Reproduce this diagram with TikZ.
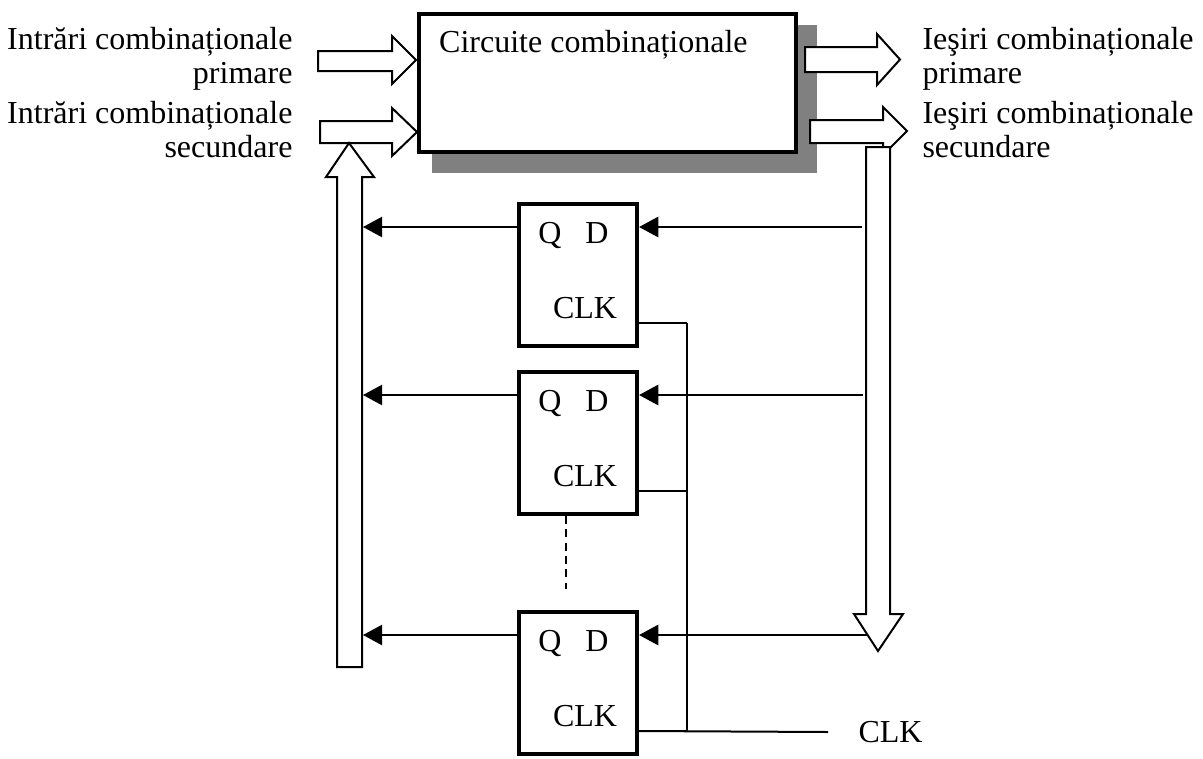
\documentclass[tikz,border=0pt]{standalone}
\usepackage{fontspec}
\setmainfont{Liberation Serif}
\usetikzlibrary{arrows.meta,calc}
\tikzset{
  ffbox/.style={draw,line width=1.5pt,minimum width=44.3pt,minimum height=53.3pt,inner sep=0pt},
  bus/.style={draw,fill=white,line width=0.75pt},
  sig/.style={line width=0.75pt},
  txt/.style={inner sep=0pt},
}
\begin{document}
\begin{tikzpicture}[x=0.375pt,y=-0.375pt,font=\fontsize{12}{12.6}\selectfont,
    >={Triangle[length=7.2pt,width=7.6pt]}]
\useasboundingbox (0,0) rectangle (1203,758);

% combinational block with shadow
\fill[gray] (432,25) rectangle (817,173);
\node[draw,fill=white,line width=1.7pt,minimum width=141.4pt,minimum height=51.8pt,inner sep=0pt] (comb) at (607.5,83) {};
\path (comb.north west) ++(22,41) node[txt,anchor=base west] (combtxt) {Circuite combinaționale};

\node[txt,anchor=base east,align=right] (inprim) at (293,83) {Intrări combinaționale\\primare};
\node[txt,anchor=base east,align=right] (insec) at (293,157) {Intrări combinaționale\\secundare};
\node[txt,anchor=base west,align=left] (outprim) at (922,83) {Ieşiri combinaționale\\primare};
\node[txt,anchor=base west,align=left] (outsec) at (922,157) {Ieşiri combinaționale\\secundare};

% bus arrows
\draw[bus] (318,51) -- (392,51) -- (392,36) -- (416,60) -- (392,84) -- (392,71) -- (318,71) -- cycle;
\draw[bus] (320,121) -- (392,121) -- (392,108) -- (417,132) -- (392,156) -- (392,143) -- (320,143) -- cycle;
\draw[bus] (805,47) -- (877,47) -- (877,34) -- (900,59.5) -- (877,85) -- (877,72) -- (805,72) -- cycle;
\draw[bus] (810,120) -- (883,120) -- (883,107) -- (907,131) -- (883,155) -- (883,143) -- (810,143) -- cycle;
\draw[bus] (866,147) -- (866,614) -- (854,614) -- (878,651) -- (903,614) -- (890,614) -- (890,147) -- cycle;
\draw[bus] (337,667) -- (337,177) -- (326,177) -- (349,143) -- (374,177) -- (362,177) -- (362,667) -- cycle;

\coordinate (qbus) at (363,0);
\coordinate (clkbus) at (687,0);

% flip-flops
\foreach \i/\y/\xe in {1/275/861,2/443/862,3/683/867}{
    \node[ffbox] (ff\i) at (578,\y) {};
    \path (ff\i.center) ++(-28,-32) node[txt,anchor=base] {Q};
    \path (ff\i.center) ++(19,-32) node[txt,anchor=base] {D};
    \path (ff\i.center) ++(7,43) node[txt,anchor=base] {CLK};
    \coordinate (q\i) at ($(ff\i.west)+(0,-48)$);
    \coordinate (d\i) at ($(ff\i.east)+(0,-48)$);
    \coordinate (c\i) at ($(ff\i.east)+(0,48)$);
    \draw[sig,->] (q\i) -- (q\i -| qbus);
    \draw[sig,<-] (d\i) -- ++({\xe-638},0);
    \draw[sig] (c\i) -- (c\i -| clkbus);
}
\draw[sig] (c1 -| clkbus) -- (c3 -| clkbus);
\coordinate (clkend) at (828,732);
\draw[sig] (c3) -- (clkend);
\node[txt,anchor=base west] (clkin) at (858,742) {CLK};

\draw[line width=0.6pt,dash pattern=on 3pt off 2pt] (ff2.south) ++(-12,0) -- ++(0,73);
\end{tikzpicture}
\end{document}
